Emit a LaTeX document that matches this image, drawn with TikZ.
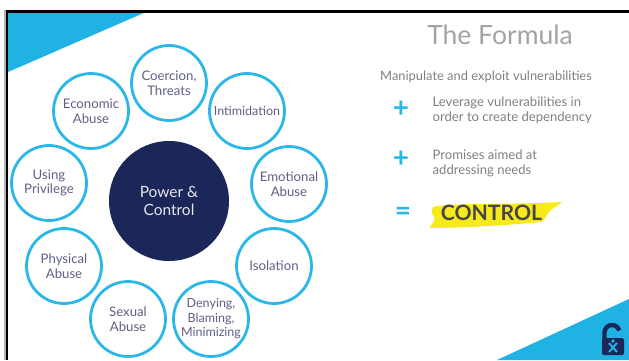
\documentclass[tikz,border=0pt]{standalone}
\usepackage{fontspec}
\setmainfont{Lato}
\definecolor{ringblue}{HTML}{2BB8E8}
\definecolor{bandblue}{HTML}{20B2E3}
\definecolor{hubnavy}{HTML}{1C2759}
\definecolor{spoketext}{HTML}{5F6088}
\definecolor{bodygray}{HTML}{7F7F7F}
\definecolor{titlegray}{HTML}{A3A3A3}
\definecolor{markyellow}{HTML}{F7EA1C}
\tikzset{
	spokestyle/.style={circle,draw=ringblue,line width=2.8pt,fill=white,minimum size=75pt,inner sep=0pt,align=center,text=spoketext,font=\fontsize{13.2}{14.5}\selectfont},
	tightstyle/.style={spokestyle,font=\fontsize{12.5}{14.5}\selectfont},
	hubstyle/.style={circle,fill=hubnavy,minimum size=120pt,inner sep=0pt,align=center,text=white!88!hubnavy,font=\fontsize{15.5}{18.5}\selectfont},
	bodystyle/.style={anchor=west,inner sep=0pt,align=left,text=bodygray,font=\fontsize{13.1}{15}\selectfont},
	signstyle/.style={inner sep=0pt,text=ringblue,font=\fontsize{28}{28}\selectfont\bfseries}
}

\begin{document}
\begin{tikzpicture}[x=1pt,y=-1pt]
		\useasboundingbox (0,0) rectangle (629,360);
		% corner bands and frame
		\fill[bandblue] (8,12)--(146,12)--(8,72)--cycle;
		\fill[bandblue] (497,360)--(629,299)--(629,360)--cycle;
		\fill[gray!60] (4,10) rectangle (6,360);
		\fill[black] (6,10) rectangle (629,12.5);
		\fill[black] (6,10) rectangle (8,360);
		% ring
		\node[hubstyle] (hub) at (169,201) {Power \&\\Control};
		\node[spokestyle] (coercion) at (169,83) {Coercion,\\Threats};
		\node[tightstyle] (intimidation) at (247,111) {Intimidation};
		\node[spokestyle] (emotional) at (289,184) {Emotional\\Abuse};
		\node[spokestyle] (isolation) at (274,266) {Isolation};
		\node[tightstyle] (denying) at (211,319) {Denying,\\Blaming,\\Minimizing};
		\node[spokestyle] (sexual) at (128,319) {Sexual\\Abuse};
		\node[spokestyle] (physical) at (64,266) {Physical\\Abuse};
		\node[spokestyle] (privilege) at (49,183) {Using\\Privilege};
		\node[spokestyle] (economic) at (91,111) {Economic\\Abuse};
		% formula
		\node[inner sep=0pt,text=titlegray,font=\fontsize{26.5}{30}\selectfont] (title) at (500,35) {The Formula};
		\node[inner sep=0pt,text=bodygray,font=\fontsize{12.9}{15}\selectfont] (manipulate) at (486,76.5) {Manipulate and exploit vulnerabilities};
		\node[signstyle] (plusa) at (401,109) {+};
		\node[bodystyle] (leverage) at (432.5,110.5) {Leverage vulnerabilities in\\order to create dependency};
		\node[signstyle] (plusb) at (401,159) {+};
		\node[bodystyle] (promises) at (432.5,163.5) {Promises aimed at\\addressing needs};
		\node[signstyle] (equals) at (403,214) {=};
		\fill[markyellow] (433,207) .. controls (445,203) and (500,205) .. (562,202) .. controls (558,206) and (552,208) .. (549,212) .. controls (546,216) and (545,220) .. (541,222) .. controls (520,224) and (470,228) .. (430,228) .. controls (430,224) and (437,221) .. (434,217) .. controls (431,213) and (431,210) .. (433,207) -- cycle;
		\node[inner sep=0pt,text=black!72,font=\fontsize{21.2}{24}\selectfont\bfseries] (control) at (491.5,213) {CONTROL};
		% lock logo
		\draw[hubnavy,line width=4.4pt] (604.5,340) -- (604.5,332.5) arc[start angle=180,end angle=345,radius=7.5];
		\fill[hubnavy,rounded corners=1.5pt] (602,338) rectangle (624,355);
		\draw[bandblue,line width=2pt] (609,343) -- (617,352) (617,343) -- (609,352);
		\fill[bandblue] (613,341) circle (1.8);
\end{tikzpicture}
\end{document}
